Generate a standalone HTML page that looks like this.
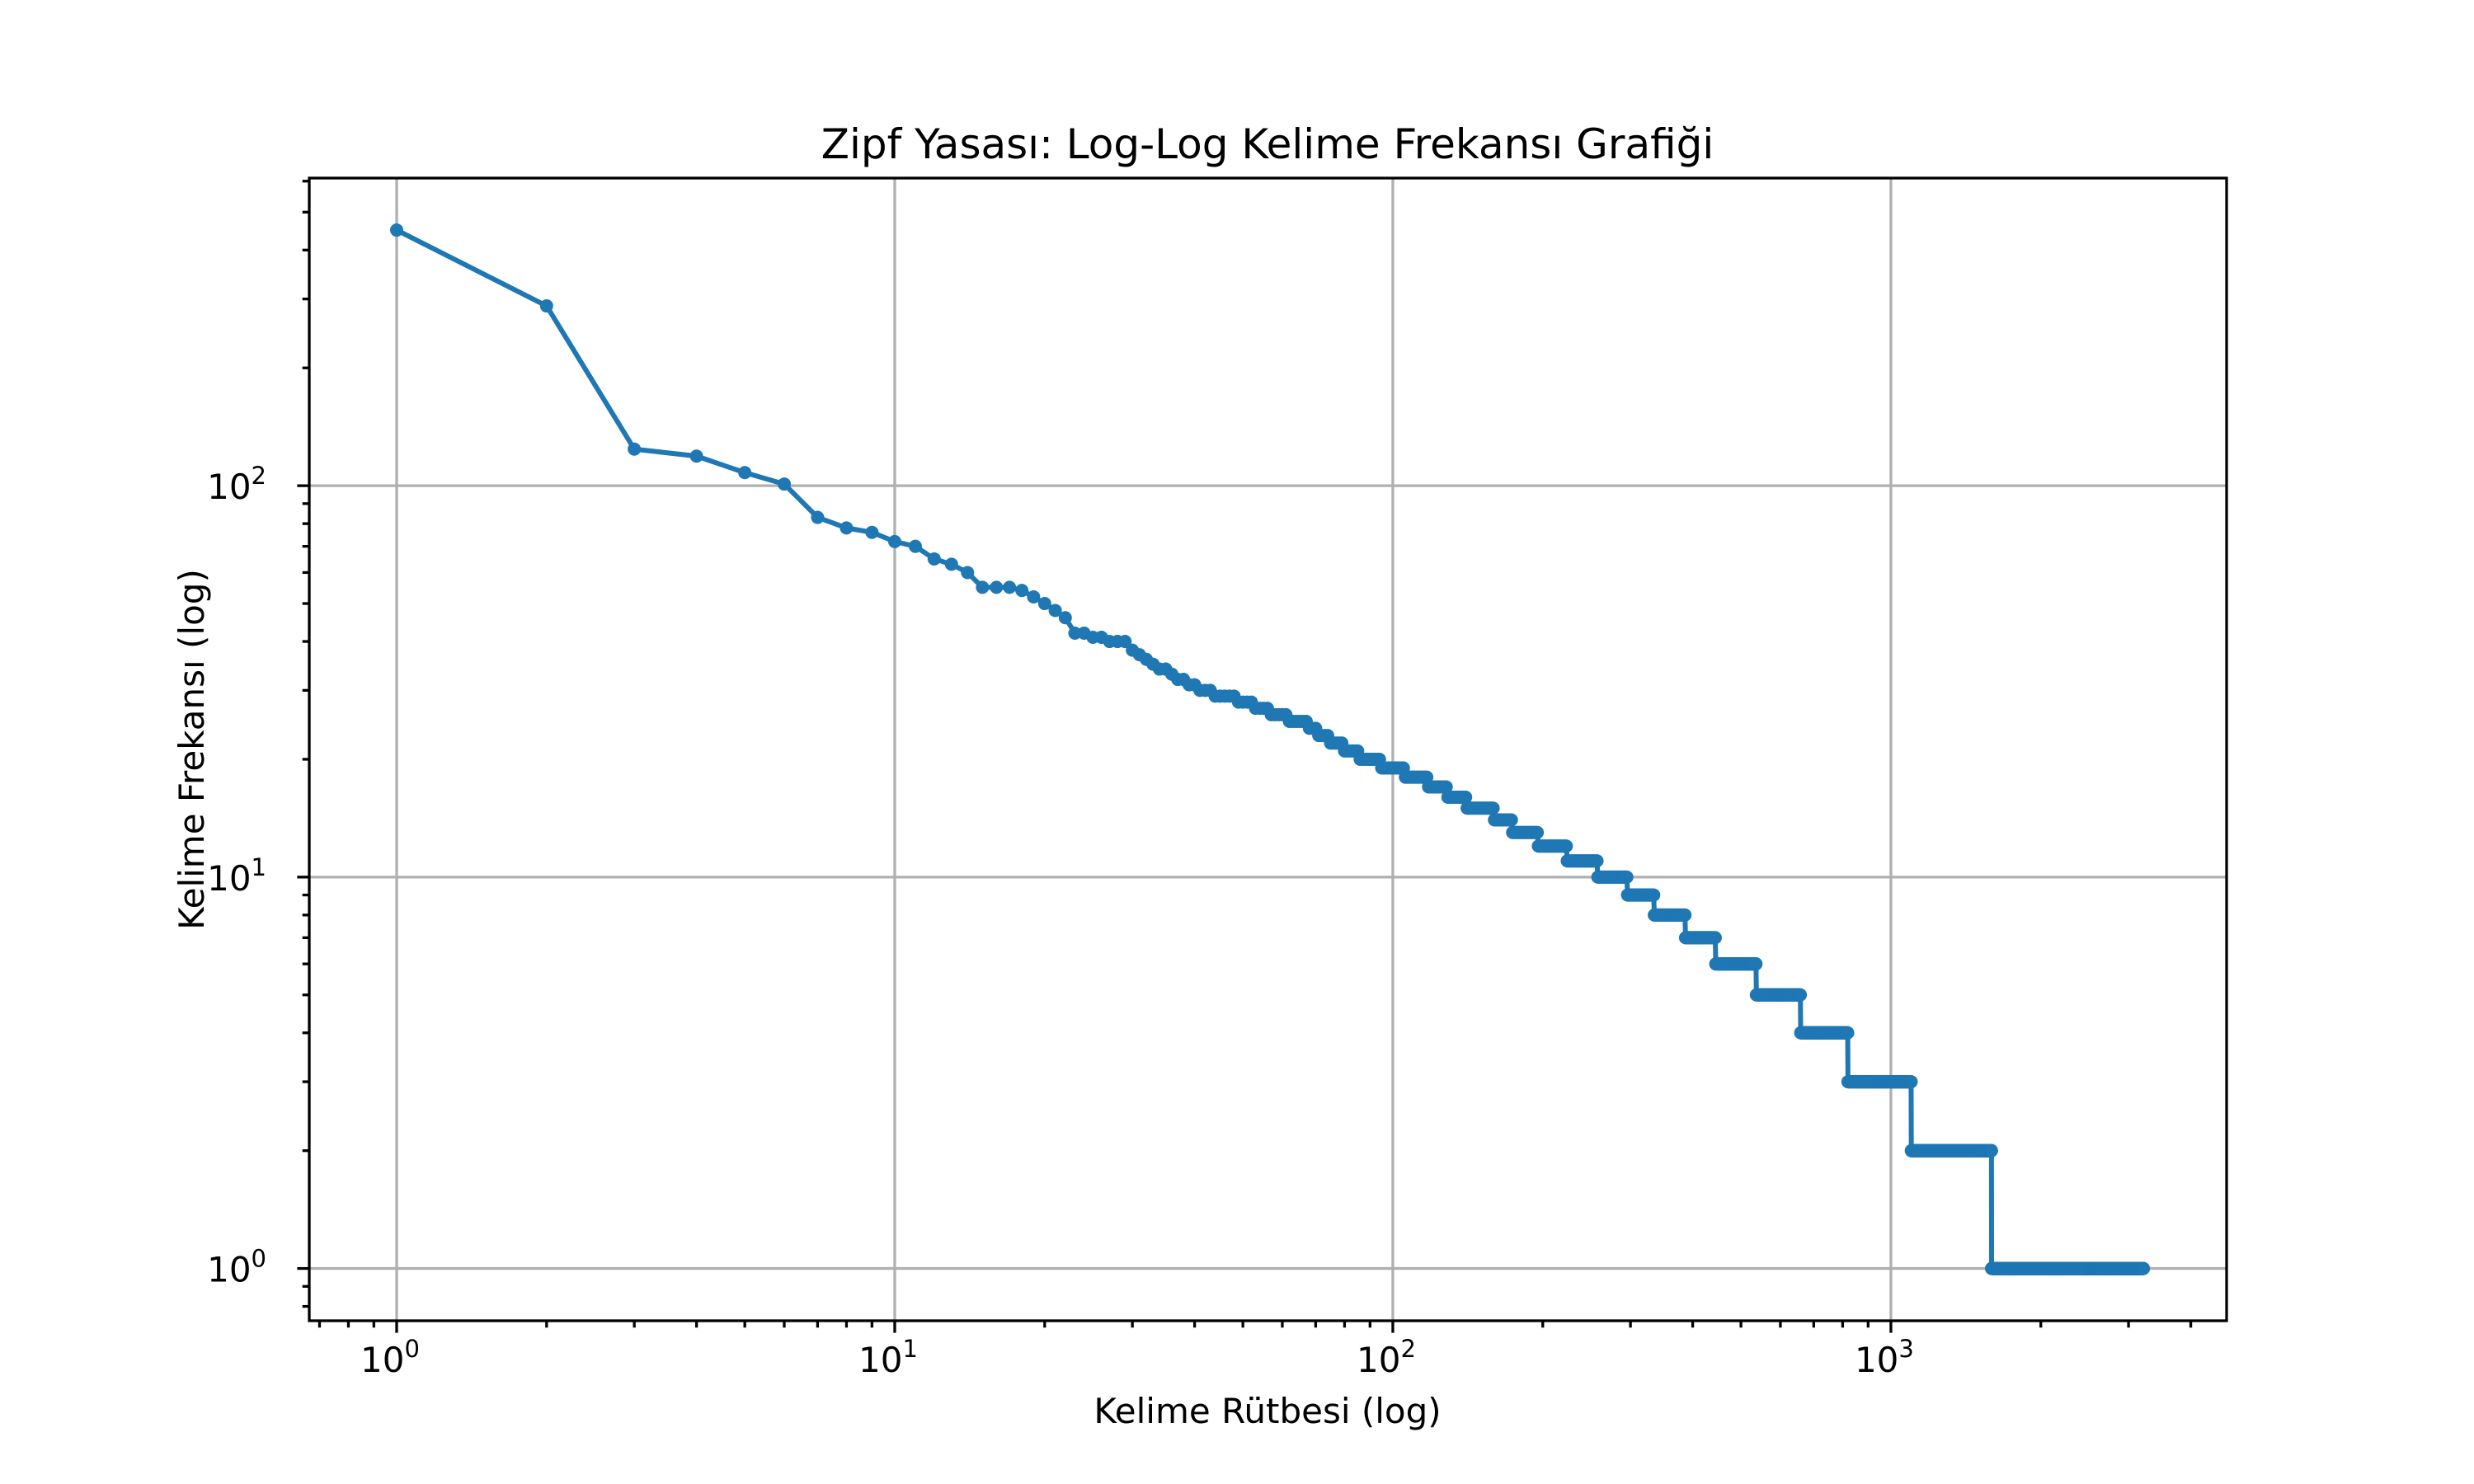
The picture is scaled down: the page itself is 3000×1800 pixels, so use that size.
<!DOCTYPE html>
<html><head><meta charset="utf-8"><style>
html,body{margin:0;padding:0;background:#fff;}
svg{display:block;font-family:"DejaVu Sans","Liberation Sans",sans-serif;}
</style></head><body>
<svg id="chart" width="3000" height="1800" viewBox="0 0 3000 1800" xmlns="http://www.w3.org/2000/svg">
<rect width="3000" height="1800" fill="#fff"/>
<text x="1537" y="192" font-size="50" text-anchor="middle">Zipf Yasası: Log-Log Kelime Frekansı Grafiği</text>
<text x="1537" y="1726" font-size="42" text-anchor="middle">Kelime Rütbesi (log)</text>
<text transform="translate(247,909) rotate(-90)" font-size="42" text-anchor="middle">Kelime Frekansı (log)</text>
<g id="grid"></g>
<g id="series"></g>
<g id="axes"></g>
</svg>
<script>
// frequencies for ranks 1..43
const headFreqs = [450,288,124,119,108,101,83,78,76,72,70,65,63,60,55,55,55,54,52,50,48,46,42,42,41,41,40,40,40,38,37,36,35,34,34,33,32,32,31,31,30,30,30];
// step levels after head: frequency and the rank where it begins
const levelFreqs = [29,28,27,26,25,24,23,22,21,20,19,18,17,16,15,14,13,12,11,10,9,8,7,6,5,4,3,2,1];
const levelStarts = [44,49,53,57,62,68,71,75,80,86,95,106,118,129,141,160,174,196,224,258,296,335,387,445,537,659,820,1099,1593];
const totalRanks = 3213;
const xTickExps = [0,1,2,3];
const yTickExps = [0,1,2];

const L=375,R=2700,T=216,B=1602;
const xMin=-0.1755,xMax=3.674,yMin=-0.1336,yMax=2.786;
const X=v=>L+(Math.log10(v)-xMin)/(xMax-xMin)*(R-L);
const Y=v=>B-(Math.log10(v)-yMin)/(yMax-yMin)*(B-T);
const NS="http://www.w3.org/2000/svg";
function mk(tag,attrs,parent){const e=document.createElementNS(NS,tag);for(const k in attrs)e.setAttribute(k,attrs[k]);parent.appendChild(e);return e;}

// build data
const ranks=[],freqs=[];
for(let i=0;i<headFreqs.length;i++){ranks.push(i+1);freqs.push(headFreqs[i]);}
for(let j=0;j<levelFreqs.length;j++){
  const end=(j+1<levelStarts.length)?levelStarts[j+1]-1:totalRanks;
  for(let r=levelStarts[j];r<=end;r++){ranks.push(r);freqs.push(levelFreqs[j]);}
}

const grid=document.getElementById('grid'),axes=document.getElementById('axes'),series=document.getElementById('series');
xTickExps.forEach(e=>{const x=X(Math.pow(10,e));
  const g=mk('line',{x1:x,x2:x,y1:T,y2:B,stroke:'#b0b0b0','stroke-width':3.3},grid);
  
  
});
yTickExps.forEach(e=>{const y=Y(Math.pow(10,e));
  const g=mk('line',{x1:L,x2:R,y1:y,y2:y,stroke:'#b0b0b0','stroke-width':3.3},grid);
  
  
});

// series line
let d='';ranks.forEach((r,i)=>{d+=(i?'L':'M')+X(r).toFixed(2)+' '+Y(freqs[i]).toFixed(2);});
const path=mk('path',{d:d,fill:'none',stroke:'#1f77b4','stroke-width':6,'stroke-linejoin':'round'},series);


ranks.forEach((r,i)=>{
  const c=mk('circle',{cx:X(r).toFixed(2),cy:Y(freqs[i]).toFixed(2),r:8,fill:'#1f77b4'},series);
  
  
});

// spines
const sp=mk('rect',{x:L,y:T,width:R-L,height:B-T,fill:'none',stroke:'#000','stroke-width':3.3},axes);



// x ticks
for(let e=-1;e<=3;e++){for(let m=1;m<=9;m++){const v=m*Math.pow(10,e);const x=X(v);if(x<L-1||x>R+1)continue;
  const len=m===1?14.6:8.3;
  const t=mk('line',{x1:x,x2:x,y1:B,y2:B+len,stroke:'#000','stroke-width':3.3},axes);
  
  
}}
xTickExps.forEach(e=>{
  const t=mk('text',{x:X(Math.pow(10,e))-8,y:B+62,'font-size':42,'text-anchor':'middle'},axes);
  
  
  t.textContent='10';
  const s=mk('tspan',{dy:-18,'font-size':29},t);s.textContent=String(e);
});
// y ticks
for(let e=-1;e<=2;e++){for(let m=1;m<=9;m++){const v=m*Math.pow(10,e);const y=Y(v);if(y<T-1||y>B+1)continue;
  const len=m===1?14.6:8.3;
  const t=mk('line',{x1:L-len,x2:L,y1:y,y2:y,stroke:'#000','stroke-width':3.3},axes);
  
  
}}
yTickExps.forEach(e=>{
  const t=mk('text',{x:L-52,y:Y(Math.pow(10,e))+16,'font-size':42,'text-anchor':'end'},axes);
  
  
  t.textContent='10';
  const s=mk('tspan',{dy:-18,'font-size':29},t);s.textContent=String(e);
});
</script>
</body></html>
